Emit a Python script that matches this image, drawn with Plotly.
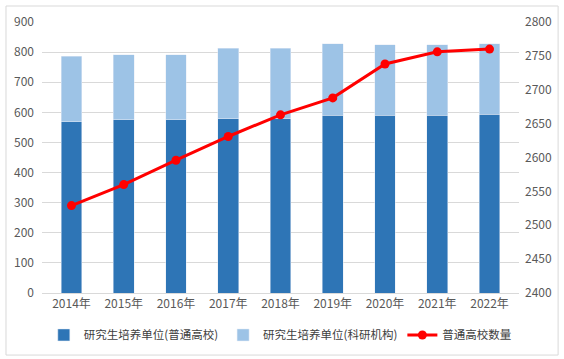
import plotly.graph_objects as go

years = ["2014年", "2015年", "2016年", "2017年", "2018年", "2019年", "2020年", "2021年", "2022年"]
univ_units = [568, 575, 575, 578, 578, 591, 591, 591, 594]
inst_units = [219, 216, 216, 235, 235, 236, 233, 233, 233]
univ_count = [2529, 2560, 2596, 2631, 2663, 2688, 2738, 2756, 2760]

names = ["研究生培养单位(普通高校)", "研究生培养单位(科研机构)", "普通高校数量"]
font_family = "Noto Sans CJK SC"
tick_color = "#595959"

fig = go.Figure()
fig.add_trace(go.Bar(x=years, y=univ_units, name=names[0], marker_color="#2E75B6"))
fig.add_trace(go.Bar(x=years, y=inst_units, name=names[1], marker_color="#9DC3E6"))
fig.add_trace(go.Scatter(x=years, y=univ_count, name=names[2], yaxis="y2",
                         mode="lines+markers",
                         line=dict(color="#FF0000", width=3),
                         marker=dict(color="#FF0000", size=9)))

fig.update_layout(
    width=564, height=359,
    margin=dict(l=42, r=45, t=22, b=66),
    barmode="stack", bargap=0.6,
    plot_bgcolor="white", paper_bgcolor="white",
    font=dict(family=font_family, size=12, color=tick_color),
    showlegend=True,
    legend=dict(orientation="h", xref="container", yref="container",
                x=0.497, xanchor="center", y=0.067, yanchor="middle",
                font=dict(size=11.5, color="#404040"), traceorder="normal",
                itemwidth=30, tracegroupgap=0),
    xaxis=dict(showgrid=False, showline=True, linecolor="#D9D9D9", linewidth=1,
               ticks="", automargin=False, tickfont=dict(size=12, color=tick_color)),
    yaxis=dict(range=[0, 900], dtick=100, showgrid=True, gridcolor="#D9D9D9",
               zeroline=False, showline=False, ticks="", automargin=False,
               tickfont=dict(size=12, color=tick_color), ticklabelstandoff=7),
    yaxis2=dict(range=[2400, 2800], dtick=50, overlaying="y", side="right",
                showgrid=False, zeroline=False, showline=False, ticks="", automargin=False,
                tickfont=dict(size=12, color=tick_color), ticklabelstandoff=5),
    shapes=[dict(type="rect", xref="paper", yref="paper",
                 x0=-0.0755, x1=1.082, y0=-0.229, y1=1.059,
                 line=dict(color="#D9D9D9", width=1), layer="below")],
)

fig.write_html("out.html", config={"displayModeBar": False},
               post_script="document.body.style.margin='0';")
